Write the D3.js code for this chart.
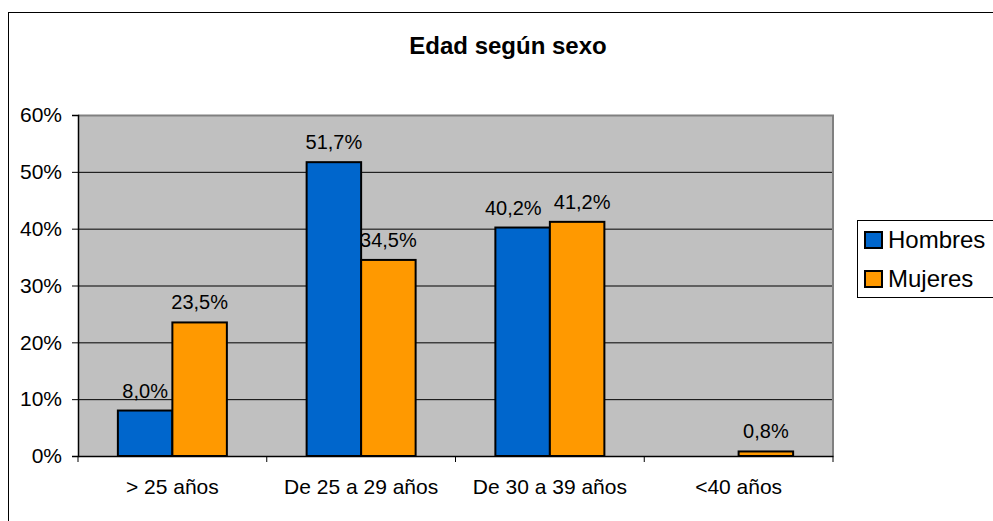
<!DOCTYPE html>
<html>
<head>
<meta charset="utf-8">
<script src="https://cdn.jsdelivr.net/npm/d3@7"></script>
<style>
  body { margin: 0; background: #fff; }
  text { font-family: "Liberation Sans", Arial, sans-serif; }
</style>
</head>
<body>
<svg id="chart" width="993" height="521"></svg>
<script>
// data
let categories = ["> 25 años", "De 25 a 29 años", "De 30 a 39 años", "<40 años"];
let seriesNames = ["Hombres", "Mujeres"];
let hombres = [8.0, 51.7, 40.2, 0];
let mujeres = [23.5, 34.5, 41.2, 0.8];
let yTicks = [0, 10, 20, 30, 40, 50, 60];
let colors = ["#0066CC", "#FF9900"];

let svg = d3.select("#chart");

// outer frame of the chart
svg.append("rect")
    .attr("x", 8.5).attr("y", 12.5)
    .attr("width", 1000).attr("height", 520)
    .attr("fill", "white").attr("stroke", "black");

let plotL = 78, plotR = 833, plotT = 115, plotB = 456;

let x0 = d3.scaleBand().domain(categories).range([plotL, plotR])
    .paddingInner(0.4225).paddingOuter(0.21125);
let x1 = d3.scaleBand().domain(seriesNames).range([0, x0.bandwidth()]);
let y = d3.scaleLinear().domain([0, 60]).range([plotB, plotT]);

// plot area
svg.append("rect")
    .attr("x", plotL).attr("y", plotT)
    .attr("width", plotR - plotL).attr("height", plotB - plotT)
    .attr("fill", "#C0C0C0");

// grid
svg.append("g")
    .selectAll("line")
    .data(yTicks.filter(d => d > 0 && d < 60))
    .enter()
    .append("line")
      .attr("x1", plotL).attr("x2", plotR)
      .attr("y1", d => y(d) + 0.5).attr("y2", d => y(d) + 0.5)
      .attr("stroke", "black");

// gray border top/right
svg.append("path")
    .attr("d", `M${plotL},${plotT + 0.5}H${plotR}V${plotB}`)
    .attr("fill", "none").attr("stroke", "#808080").attr("stroke-width", 2);

// bars
let rows = categories.map((c, i) => ({ cat: c, vals: [hombres[i], mujeres[i]] }));

let groups = svg.append("g")
    .selectAll("g")
    .data(rows)
    .enter()
    .append("g")
      .attr("transform", d => `translate(${x0(d.cat)},0)`);

groups.selectAll("rect")
    .data(d => d.vals.map((v, j) => ({ name: seriesNames[j], v: v, j: j })).filter(d => d.v > 0))
    .enter()
    .append("rect")
      .attr("x", d => x1(d.name))
      .attr("y", d => y(d.v))
      .attr("width", x1.bandwidth())
      .attr("height", d => y(0) - y(d.v))
      .attr("fill", d => colors[d.j])
      .attr("stroke", "black")
      .attr("stroke-width", 2);

groups.each(function(row) {
  let g = d3.select(this);
  let labels = g.selectAll("text.lbl")
      .data(row.vals.map((v, j) => ({ name: seriesNames[j], v: v })).filter(d => d.v > 0))
      .enter()
      .append("text")
        .attr("class", "lbl")
        .attr("x", d => x1(d.name) + x1.bandwidth() / 2)
        .attr("y", d => y(d.v) - 13)
        .attr("text-anchor", "middle")
        .attr("font-size", 20)
        .text(d => d.v.toFixed(1).replace(".", ",") + "%");
  // push apart labels that would overlap (like Excel does)
  let nodes = labels.nodes();
  if (nodes.length === 2) {
    let a = nodes[0].getBBox(), b = nodes[1].getBBox();
    let overlapY = Math.abs(a.y - b.y) < a.height;
    let gap = b.x - (a.x + a.width);
    if (overlapY && gap < 12) {
      let need = 12 - gap;
      d3.select(nodes[0]).attr("dx", -need * 0.65);
      d3.select(nodes[1]).attr("dx", need * 0.35);
    }
  }
});

// y axis
let yAxis = svg.append("g")
    .attr("transform", `translate(${plotL},0)`)
    .call(d3.axisLeft(y).tickValues(yTicks).tickSize(6).tickPadding(10)
      .tickFormat(d => d + "%"));
yAxis.select(".domain").attr("stroke", "black").attr("stroke-width", 1.5);
yAxis.selectAll("text").attr("font-size", 21).attr("fill", "black")
    .attr("font-family", "Liberation Sans, Arial, sans-serif");

// x axis
let xAxis = svg.append("g")
    .attr("transform", `translate(0,${plotB})`)
    .call(d3.axisBottom(x0).tickSize(0).tickPadding(23));
xAxis.select(".domain").attr("stroke", "black").attr("stroke-width", 1.5);
xAxis.selectAll("text").attr("font-size", 21).attr("fill", "black")
    .attr("font-family", "Liberation Sans, Arial, sans-serif");

// boundary ticks between categories
let bounds = d3.range(categories.length + 1).map(i => plotL + i * x0.step());
svg.append("g")
    .selectAll("line")
    .data(bounds)
    .enter()
    .append("line")
      .attr("x1", d => d).attr("x2", d => d)
      .attr("y1", plotB).attr("y2", plotB + 6)
      .attr("stroke", "black");

// title
svg.append("text")
    .attr("x", 508).attr("y", 54)
    .attr("text-anchor", "middle")
    .attr("font-size", 24).attr("font-weight", "bold")
    .text("Edad según sexo");

// legend
let legend = svg.append("g");
legend.append("rect")
    .attr("x", 857.5).attr("y", 220.5)
    .attr("width", 150).attr("height", 77)
    .attr("fill", "white").attr("stroke", "black");

let items = legend.selectAll("g")
    .data(seriesNames)
    .enter()
    .append("g")
      .attr("transform", (d, i) => `translate(865,${232 + i * 39})`);
items.append("rect")
    .attr("width", 17).attr("height", 16)
    .attr("fill", (d, i) => colors[i])
    .attr("stroke", "black").attr("stroke-width", 2);
items.append("text")
    .attr("x", 23).attr("y", 16)
    .attr("font-size", 24)
    .text(d => d);
</script>
</body>
</html>
